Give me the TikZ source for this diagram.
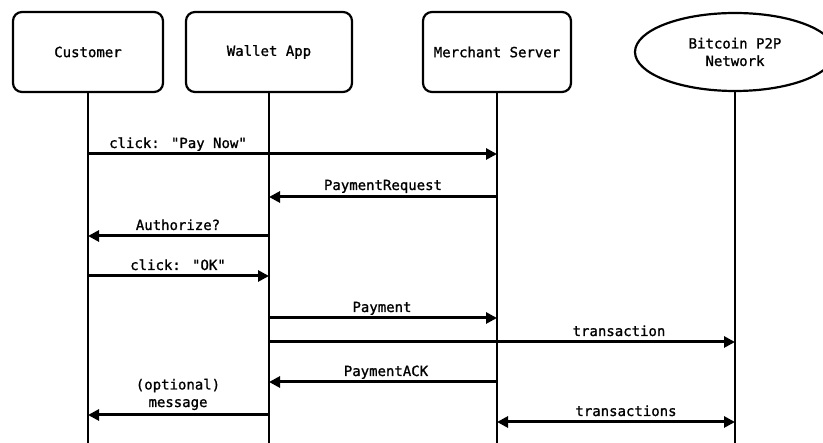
\documentclass[tikz,border=0pt]{standalone}
\usepackage{fontspec}
\newfontfamily\seqfont[BoldFont={DejaVu Sans Mono},BoldFeatures={FakeBold=1.2}]{DejaVu Sans Mono}
\usetikzlibrary{arrows.meta,shapes.geometric}
\begin{document}
\begin{tikzpicture}[x=1pt,y=-1pt,
  txt/.style={font=\seqfont\bfseries\fontsize{14}{17.5}\selectfont},
  actor/.style={txt,draw,line width=2.2pt,rounded corners=9pt,minimum height=80pt,align=center,inner sep=0pt},
  net/.style={txt,draw,line width=2.2pt,ellipse,minimum width=200pt,minimum height=78pt,align=center,inner sep=0pt},
  life/.style={line width=2.2pt},
  msg/.style={line width=3pt,-{Triangle[length=11pt,width=11pt]}},
  dmsg/.style={line width=3pt,{Triangle[length=11pt,width=11pt]}-{Triangle[length=11pt,width=11pt]}},
  lbl/.style={txt,anchor=base,inner sep=0pt,align=center}
]
\clip (0,0) rectangle (823,443);
\node[actor,minimum width=150pt] (cust) at (88,52) {Customer};
\node[actor,minimum width=166pt] (wall) at (269,52) {Wallet App};
\node[actor,minimum width=148pt] (merc) at (497,52) {Merchant Server};
\node[net] (btc) at (735,52) {Bitcoin P2P\\Network};
\coordinate (custE) at (88,445);
\coordinate (wallE) at (269,445);
\coordinate (mercE) at (497,445);
\coordinate (btcE) at (735,445);
\draw[life] (cust.south) -- (custE);
\draw[life] (wall.south) -- (wallE);
\draw[life] (merc.south) -- (mercE);
\draw[life] (btc.south) -- (btcE);
% messages
\draw[msg] (cust |- 0,154) -- (merc |- 0,154);
\node[lbl] (l1) at (178,148) {click: "Pay Now"};
\draw[msg] (merc |- 0,197) -- (wall |- 0,197);
\node[lbl] (l2) at (383,190) {PaymentRequest};
\draw[msg] (wall |- 0,236) -- (cust |- 0,236);
\node[lbl] (l3) at (178,230) {Authorize?};
\draw[msg] (cust |- 0,276) -- (wall |- 0,276);
\node[lbl] (l4) at (178,270) {click: "OK"};
\draw[msg] (wall |- 0,318) -- (merc |- 0,318);
\node[lbl] (l5) at (382,312) {Payment};
\draw[msg] (wall |- 0,342) -- (btc |- 0,342);
\node[lbl] (l6) at (619,336) {transaction};
\draw[msg] (merc |- 0,382) -- (wall |- 0,382);
\node[lbl] (l7) at (386,376) {PaymentACK};
\draw[msg] (wall |- 0,415) -- (cust |- 0,415);
\node[lbl] (l8) at (178,407) {(optional)\\message};
\draw[dmsg] (merc |- 0,422) -- (btc |- 0,422);
\node[lbl] (l9) at (626,416) {transactions};
\end{tikzpicture}
\end{document}
